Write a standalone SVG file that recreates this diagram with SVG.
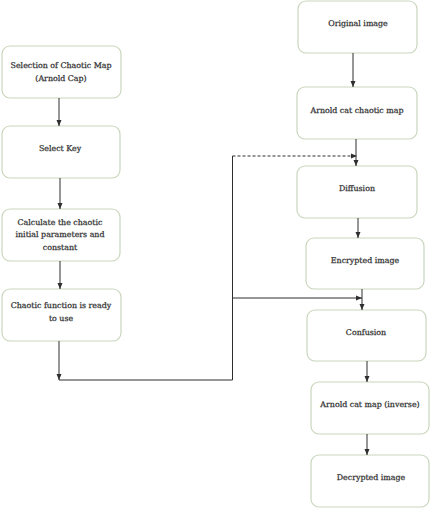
<svg xmlns="http://www.w3.org/2000/svg" width="430" height="508" viewBox="0 0 430 508">
<style>
.box{fill:#fff;stroke:#c9d7bd;stroke-width:1.2}
.t{font-family:"DejaVu Serif","Liberation Serif",serif;font-size:7.9px;fill:#333;stroke:#333;stroke-width:0.25;text-anchor:middle}
.ln{fill:none;stroke:#2e2e2e;stroke-width:1}
.dash{stroke-dasharray:3,2}
</style>
<defs>
<marker id="ah" viewBox="0 0 6 6" refX="6" refY="3" markerWidth="6" markerHeight="6" markerUnits="userSpaceOnUse" orient="auto">
<path d="M0,0.5 L6,3 L0,5.5 Z" fill="#2e2e2e"/>
</marker>
</defs>
<rect width="430" height="508" fill="#fff"/>
<g id="n1"><rect class="box" x="2" y="46" width="119" height="52" rx="8"/><text class="t" x="61" y="68">Selection of Chaotic Map</text><text class="t" x="61" y="80.5">(Arnold Cap)</text></g>
<g id="n2"><rect class="box" x="2" y="126" width="118" height="52" rx="8"/><text class="t" x="60" y="151">Select Key</text></g>
<g id="n3"><rect class="box" x="2" y="209" width="118" height="52" rx="8"/><text class="t" x="60" y="224.5">Calculate the chaotic</text><text class="t" x="60" y="237">initial parameters and</text><text class="t" x="60" y="249.5">constant</text></g>
<g id="n4"><rect class="box" x="2" y="289" width="119" height="52" rx="8"/><text class="t" x="61" y="308">Chaotic function is ready</text><text class="t" x="61" y="320.5">to use</text></g>
<g id="n5"><rect class="box" x="298" y="1" width="119" height="52" rx="8"/><text class="t" x="358" y="26">Original image</text></g>
<g id="n6"><rect class="box" x="297" y="87" width="120" height="52" rx="8"/><text class="t" x="357" y="113">Arnold cat chaotic map</text></g>
<g id="n7"><rect class="box" x="297" y="166" width="120" height="52" rx="8"/><text class="t" x="357" y="191">Diffusion</text></g>
<g id="n8"><rect class="box" x="306" y="238" width="118" height="51" rx="8"/><text class="t" x="365" y="263">Encrypted image</text></g>
<g id="n9"><rect class="box" x="307" y="310" width="119" height="51" rx="8"/><text class="t" x="366" y="335">Confusion</text></g>
<g id="n10"><rect class="box" x="311" y="382" width="118" height="52" rx="8"/><text class="t" x="370" y="407">Arnold cat map (inverse)</text></g>
<g id="n11"><rect class="box" x="311" y="455" width="118" height="52" rx="8"/><text class="t" x="371" y="480">Decrypted image</text></g>
<g id="connectors">
<line class="ln" x1="59" y1="98" x2="59" y2="126" marker-end="url(#ah)"/>
<line class="ln" x1="60" y1="178" x2="60" y2="209" marker-end="url(#ah)"/>
<line class="ln" x1="60" y1="261" x2="60" y2="289" marker-end="url(#ah)"/>
<line class="ln" x1="59" y1="341" x2="59" y2="380" marker-end="url(#ah)"/>
<polyline class="ln" points="59,380 232.5,380 232.5,156"/>
<line class="ln dash" x1="232.5" y1="156" x2="357" y2="156" marker-end="url(#ah)"/>
<line class="ln" x1="232.5" y1="298" x2="362" y2="298" marker-end="url(#ah)"/>
<line class="ln" x1="353" y1="53" x2="353" y2="87" marker-end="url(#ah)"/>
<line class="ln" x1="356" y1="139" x2="356" y2="166" marker-end="url(#ah)"/>
<line class="ln" x1="358" y1="218" x2="358" y2="238" marker-end="url(#ah)"/>
<line class="ln" x1="362" y1="289" x2="362" y2="310" marker-end="url(#ah)"/>
<line class="ln" x1="367" y1="361" x2="367" y2="382" marker-end="url(#ah)"/>
<line class="ln" x1="367" y1="434" x2="367" y2="455" marker-end="url(#ah)"/>
</g>
</svg>
